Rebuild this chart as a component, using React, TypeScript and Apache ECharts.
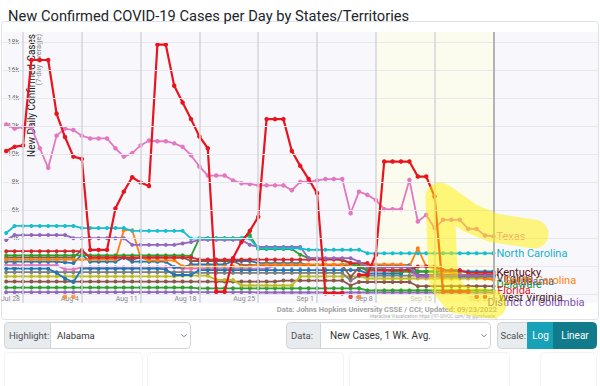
import React, { useEffect, useRef } from "react";
import * as echarts from "echarts";

// ---- data (cases per day, thousands, 7-day average) ----
const days = [-2, -1, 0, 1, 2, 3, 4, 5, 6, 7, 8, 9, 10, 11, 12, 13, 14, 15, 16, 17, 18, 19, 20, 21, 22, 23, 24, 25, 26, 27, 28, 29, 30, 31, 32, 33, 34, 35, 36, 37, 38, 39, 40, 41, 42, 43, 44, 45, 46, 47, 48, 49, 50, 51, 52, 53, 54, 55, 56];
const tickDays = [0, 7, 14, 21, 28, 35, 42, 49, 56];
const tickLabels = ["Jul 28", "Aug 4", "Aug 11", "Aug 18", "Aug 25", "Sep 1", "Sep 8", "Sep 15", "Sep 22"];
const yTickValues = [0, 2, 4, 6, 8, 10, 12, 14, 16, 18];
const yTickLabels = ["0", "2k", "4k", "6k", "8k", "10k", "12k", "14k", "16k", "18k"];

const texas = [12.1, 11.8, 11.9, 11.9, 10.4, 9.0, 11.3, 11.8, 11.7, 11.3, 11.1, 11.1, 11.1,
  10.4, 9.8, 10.05, 10.6, 10.95, 10.9, 10.9, 10.75, 10.5, 9.9, 9.1,
  8.45, 8.45, 8.45, 8.1, 7.9, 7.85, 7.75, 7.75, 7.75, 7.75, 7.4,
  8.0, 8.0, 8.1, 8.2, 8.2, 8.2, 5.76, 7.3, 7.07, 6.7, 6.05,
  6.05, 6.05, 8.14, 5.17, 5.64, 4.69, 5.29, 5.29, 5.29, 4.64, 4.64, 4.17, 4.1];
const florida = [10.2, 10.5, 10.6, 16.7, 16.7, 16.7, 12.86, 11.2, 9.8, 9.64,
  3.14, 3.14, 3.14, 6.1, 7.3, 8.33, 7.95, 7.7, 17.8, 17.8,
  14.86, 13.67, 12.48, 11.24, 10.4, 0.16, 0.16, 2.55, 3.7, 4.5,
  5.5, 12.48, 12.48, 12.48, 10.2, 9.14, 8.2, 7.2, 0.05, 0.05,
  0.05, null, 1.36, 1.36, 2.8, 9.45, 9.45, 9.45, 9.45, 8.38,
  8.38, 6.95, 0.16, 0.16, 0.16, 0.16];
const floridaDotDays = [39, 54, 55];
const floridaDotValues = [-0.2, -0.2, -0.2];
const arkansasDotDays = [5, 6, 40];
const arkansasDotValues = [-0.2, -0.2, -0.2];
const northCarolina = [4.35, 4.85, 4.85, 4.85, 4.85, 4.85, 4.85, 4.85, 4.85,
  4.7, 4.7, 4.7, 4.7, 4.7, 4.7,
  4.5, 4.5, 4.5, 4.5, 4.5, 4.5, 4.5,
  3.95, 3.95, 3.95, 3.95, 3.95, 3.95, 3.95, 3.95,
  3.25, 3.25, 3.25, 3.25, 3.25, 3.25,
  3.15, 3.15, 3.15, 3.15, 3.15, 3.15, 3.15,
  2.9, 2.9, 2.9, 2.9, 2.9, 2.9, 2.9, 2.9, 2.9, 2.9, 2.9, 2.9, 2.9, 2.9, 2.9, 2.9];
const georgia = [3.85, 4.2, 4.2, 4.2, 4.2, 4.2, 4.2, 4.2,
  3.98, 3.98, 3.98, 3.98, 3.98, 3.98, 3.98,
  3.5, 3.5, 3.5, 3.5, 3.5, 3.5,
  3.6, 3.7,
  3.86, 3.86, 3.86, 3.86, 3.86, 3.86,
  3.5,
  3.35, 3.35, 3.35, 3.35, 3.35, 3.35,
  2.55, 2.55, 2.55, 2.55, 2.55, 2.55,
  2.3,
  1.9, 1.9, 1.9, 1.9, 1.9, 1.9,
  1.3, 1.3, 1.3, 1.3, 1.3, 1.3, 1.3, 1.3, 1.3, 1.3];
const kentucky = [3.05, 3.05, 3.05, 3.05, 3.05, 3.05, 3.05, 3.05, 3.05, 3.05,
  2.6, 2.6, 2.6, 2.6, 2.6, 2.6, 2.6, 2.6, 2.6, 2.6, 2.6, 2.6, 2.6,
  2.45, 2.45, 2.45, 2.45, 2.45, 2.45, 2.45, 2.45, 2.45, 2.45, 2.45, 2.45, 2.45, 2.45, 2.45, 2.45, 2.45, 2.45,
  2.2, 2.2, 2.2,
  1.7, 1.7, 1.7, 1.7, 1.7,
  1.95, 1.95, 1.95,
  1.7, 1.7, 1.7,
  1.5, 1.5, 1.5, 1.5];
const tennessee = [2.75, 2.75, 2.75, 2.75, 2.75, 2.75, 2.75, 2.75, 2.75, 2.75, 2.75,
  2.75, 2.75, 2.75, 2.75, 2.75, 2.75, 2.75, 2.75, 2.75, 2.75, 2.75,
  2.7,
  3.98, 3.98, 3.98, 3.98, 3.98, 3.98,
  4.2,
  3.2, 3.2, 3.2, 3.2, 3.2,
  2.8, 2.55, 2.5, 2.5, 2.5, 2.4, 2.2, 1.95,
  1.76, 1.76, 1.76,
  1.6, 1.6, 1.6, 1.6, 1.6, 1.6,
  1.25, 1.25, 1.25, 1.25, 1.25, 1.25, 1.25];
const southCarolina = [2.45, 2.45, 2.45, 2.45, 2.45, 2.45, 2.45, 2.45, 2.45, 2.45, 2.45, 2.45, 2.45, 2.45,
  4.55, 4.55, 2.6,
  2.4, 2.4, 2.4, 2.4,
  1.95, 1.95, 1.95, 1.95, 1.95, 1.95, 1.95, 1.95, 1.95,
  2.1, 2.1, 2.1, 2.1, 2.1, 2.1, 2.1, 2.1, 2.1, 2.1, 2.1, 2.1, 2.1, 2.1, 2.1, 2.1, 2.1, 2.1,
  1.95, 3.26, 1.95, 1.85,
  1.55, 1.5, 1.4, 1.3, 1.2, 1.1, 1.0];
const virginia = [2.6, 2.6, 2.6, 2.6, 2.6, 2.6, 2.6, 2.6, 2.6,
  3.14,
  2.6, 2.6, 2.6, 2.6, 2.6,
  2.45,
  2.6, 2.6, 2.6, 2.6, 2.6, 2.6,
  2.35, 2.35, 2.35, 2.35, 2.35, 2.35,
  2.05, 2.05, 2.05, 2.05, 2.05, 2.05, 2.05, 2.05, 2.05, 2.05, 2.05, 2.05, 2.05,
  1.2, 1.9,
  1.7, 1.7, 1.7, 1.7, 1.7, 1.7,
  1.35, 1.35, 1.35, 1.35, 1.35, 1.35, 1.35, 1.35, 1.35, 1.35];
const alabama = [2.3, 2.3, 2.3, 2.3, 2.3, 2.3, 2.3,
  2.25, 2.2, 2.8,
  2.3, 2.3, 2.3, 2.3,
  2.6,
  2.3, 2.3, 2.3, 2.3, 2.3,
  1.9, 1.9,
  2.1, 2.1, 2.1, 2.1, 2.1,
  2.35, 2.35, 2.35,
  2.2, 2.2, 2.2, 2.2, 2.2, 2.2,
  2.05, 2.05, 2.05, 2.05, 2.05, 2.05, 2.05, 2.05, 2.05, 2.05, 2.05, 2.05, 2.05,
  1.6, 1.6, 1.6, 1.6, 1.6, 1.6, 1.6, 1.6, 1.6, 1.6];
const maryland = [1.8, 1.8, 1.8, 1.8, 1.8, 1.8,
  1.5, 1.1, 0.85,
  1.8, 1.8, 1.8, 1.8, 1.8, 1.8, 1.8, 1.8, 1.8, 1.8,
  1.75,
  1.35, 1.35, 1.35,
  1.7, 1.7, 1.7, 1.7, 1.7, 1.7, 1.7, 1.7, 1.7, 1.7, 1.7, 1.7, 1.7, 1.7, 1.7, 1.7, 1.7, 1.7, 1.7, 1.7,
  1.45, 1.45, 1.45, 1.45, 1.45,
  1.9,
  1.3, 1.3, 1.3, 1.3, 1.3, 1.3, 1.3, 1.3, 1.3, 1.3];
const louisiana = [2.05, 2.05, 2.05, 2.05, 2.05, 2.05, 2.05,
  1.75, 1.75,
  1.9, 1.9, 1.9, 1.9, 1.9, 1.9, 1.9, 1.9, 1.9, 1.9, 1.9, 1.9,
  1.8, 1.8, 1.8, 1.8, 1.8, 1.8, 1.8, 1.8, 1.8, 1.8, 1.8,
  2.0, 2.0, 2.0, 2.0, 2.0, 2.0, 2.0, 2.0,
  2.1, 2.1, 2.1,
  1.6, 1.6, 1.6, 1.6, 1.6, 1.6,
  1.2, 1.2, 1.2, 1.2, 1.2, 1.2, 1.2, 1.2, 1.2, 1.2];
const oklahoma = [1.55, 1.55, 1.55, 1.55, 1.55, 1.55, 1.55, 1.55, 1.55, 1.55, 1.55, 1.55,
  1.55, 1.55, 1.55, 1.55, 1.55, 1.55, 1.55, 1.55, 1.55, 1.55, 1.55,
  1.5, 1.5, 1.5, 1.5, 1.5, 1.5, 1.5, 1.5, 1.5, 1.5, 1.5, 1.5, 1.5, 1.5, 1.5, 1.5, 1.5, 1.5,
  0.95,
  1.3, 1.3, 1.3, 1.3, 1.3, 1.3, 1.3, 1.3, 1.3, 1.3, 1.3, 1.3, 1.3, 1.3, 1.3, 1.3, 1.3];
const mississippi = [1.25, 1.25, 1.25, 1.25, 1.25, 1.25, 1.25, 1.25, 1.25, 1.25, 1.25,
  1.25, 1.25, 1.25, 1.25, 1.25, 1.25, 1.25, 1.25, 1.25, 1.25,
  1.3, 1.3, 1.3, 1.3,
  1.0, 1.0, 1.0,
  0.6, 0.6, 0.6, 0.6, 0.6, 0.6, 0.6,
  1.25, 1.25, 1.25, 1.25, 1.25, 1.25, 1.25, 1.25,
  1.1, 1.1, 1.1, 1.1, 1.1, 1.1, 1.1, 1.1, 1.1, 1.1, 1.1, 1.1, 1.1, 1.1, 1.1, 1.1];
const westVirginia = [0.88, 0.88, 0.88, 0.88, 0.88, 0.88, 0.88, 0.88, 0.88, 0.88, 0.88,
  0.88, 0.88, 0.88, 0.88, 0.88, 0.88, 0.88, 0.88, 0.88, 0.88, 0.88,
  0.88, 0.88, 0.88, 0.88, 0.88, 0.88, 0.88, 0.88, 0.88, 0.88, 0.88,
  0.95, 0.95, 0.95, 0.95, 0.95, 0.95, 0.95, 0.95,
  0.6,
  0.85, 0.85, 0.85, 0.85, 0.85, 0.85, 0.85,
  0.55, 0.55, 0.55, 0.55, 0.55, 0.55, 0.55, 0.55, 0.55, 0.55];
const delaware = [0.45, 0.45, 0.45, 0.45, 0.45, 0.45, 0.45, 0.45, 0.45, 0.45, 0.45, 0.45,
  0.45, 0.45, 0.45, 0.45, 0.45, 0.45, 0.45, 0.45, 0.45, 0.45, 0.45,
  0.4, 0.4, 0.4, 0.4, 0.4, 0.4, 0.4, 0.4, 0.4, 0.4, 0.4, 0.4, 0.4, 0.4, 0.4, 0.4, 0.4, 0.4, 0.4, 0.4,
  0.25, 0.25, 0.25, 0.25, 0.25, 0.25, 0.25, 0.25, 0.25, 0.25, 0.25, 0.25, 0.25, 0.25, 0.25, 0.25];
const dc = [0.12, 0.12, 0.12, 0.12, 0.12, 0.12, 0.12, 0.12, 0.12, 0.12, 0.12, 0.12, 0.12, 0.12, 0.12,
  0.12, 0.12, 0.12, 0.12, 0.12, 0.12, 0.12, 0.12, 0.12, 0.12, 0.12, 0.12, 0.12, 0.12, 0.12,
  0.1, 0.1, 0.1, 0.1, 0.1, 0.1, 0.1, 0.1, 0.1, 0.1, 0.1, 0.1, 0.1, 0.1, 0.1,
  0.1, 0.1, 0.1, 0.1, 0.1, 0.1, 0.1, 0.1, 0.1, 0.1, 0.1, 0.1, 0.1, 0.1];

const stateNames = ["District of Columbia", "Delaware", "West Virginia", "Mississippi", "Oklahoma", "Louisiana",
  "Maryland", "Alabama", "Virginia", "South Carolina", "Tennessee", "Kentucky", "Georgia",
  "North Carolina", "Texas", "Florida"];
const stateValues = [dc, delaware, westVirginia, mississippi, oklahoma, louisiana,
  maryland, alabama, virginia, southCarolina, tennessee, kentucky, georgia,
  northCarolina, texas, florida];

// ---- styles (kept apart from the data) ----
const styles: Record<string, any> = {
  "District of Columbia": { color: "#9467bd", label: "#7e4fb5", offset: [-9, 10] },
  "Delaware": { color: "#2ca02c", label: "#2a8f2a", offset: [0, -6] },
  "West Virginia": { color: "#8c564b", label: "#4a1e1e", offset: [2, 11] },
  "Mississippi": { color: "#bcbd22", label: null },
  "Oklahoma": { color: "#7f7f7f", label: null },
  "Louisiana": { color: "#e377c2", label: null },
  "Maryland": { color: "#1f77b4", label: null },
  "Alabama": { color: "#1f77b4", label: "#1f6fb0", offset: [14, 10] },
  "Virginia": { color: "#8c564b", label: "#5a2a22", offset: [0, 4] },
  "South Carolina": { color: "#ff7f0e", label: "#ff7f0e", offset: [8, 1] },
  "Tennessee": { color: "#2ca02c", label: null },
  "Kentucky": { color: "#d62728", label: "#5c1010", offset: [0, 0] },
  "Georgia": { color: "#9467bd", label: null },
  "North Carolina": { color: "#17becf", label: "#17b0c8", offset: [0, 0] },
  "Texas": { color: "#e377c2", label: "#e377c2", offset: [0, 0] },
  "Florida": { color: "#e8141e", label: "#e8141e", offset: [26, -1] },
};

export default function App() {
  const ref = useRef<HTMLDivElement>(null);
  useEffect(() => {
    if (!ref.current) return;
    const chart = echarts.init(ref.current, null, { renderer: "svg" });
    const font = "Roboto";

    const lineSeries = stateNames.map((name, k) => {
      const st = styles[name];
      const vals = stateValues[k];
      const isBig = name === "Florida" || name === "Texas";
      return {
        name,
        type: "line",
        data: vals.map((v, i) => [days[i], v]),
        symbol: "circle",
        symbolSize: isBig ? 4.5 : 4,
        showSymbol: true,
        connectNulls: false,
        lineStyle: { width: name === "Florida" ? 2.2 : 1.8, color: st.color },
        itemStyle: { color: st.color },
        emphasis: { disabled: true },
        z: 2 + k * 0.01,
        endLabel: st.label
          ? {
              show: true,
              formatter: "{a}",
              color: st.label,
              fontSize: 11,
              fontFamily: font,
              distance: 3,
              offset: st.offset,
            }
          : { show: false },
      };
    });

    const dotSeries = [
      { name: "Florida dots", days: floridaDotDays, vals: floridaDotValues, color: "#e8141e" },
      { name: "Arkansas dots", days: arkansasDotDays, vals: arkansasDotValues, color: "#ff7f0e" },
    ].map((s) => ({
      name: s.name,
      type: "scatter",
      data: s.vals.map((v, i) => [s.days[i], v]),
      symbol: "circle",
      symbolSize: 4.5,
      itemStyle: { color: s.color },
      emphasis: { disabled: true },
      z: 3,
    }));

    const helperArea = {
      name: "area",
      type: "line",
      data: [],
      z: 1,
      markArea: {
        silent: true,
        itemStyle: { color: "rgba(255,255,225,0.55)" },
        data: [[{ xAxis: tickDays[6] }, { xAxis: tickDays[8] }]],
      },
    };
    const helperLines = {
      name: "grid",
      type: "line",
      data: [],
      z: 1.5,
      markLine: {
        silent: true,
        symbol: ["none", "none"],
        label: { show: false },
        animation: false,
        data: [
          ...yTickValues.map((v) => ({ yAxis: v, lineStyle: { color: "#e7e7ee", width: 1, type: "solid" } })),
          ...tickDays.map((d, i) => ({
            xAxis: d,
            lineStyle: i === tickDays.length - 1
              ? { color: "#b4b4b8", width: 2, type: "solid" }
              : { color: "#d6d6da", width: 1.5, type: "solid" },
          })),
        ],
      },
    };

    const ctrlText = (x: number, y: number, text: string, extra: any = {}) => ({
      type: "text",
      x,
      y,
      silent: true,
      z: 5,
      style: { text, fontSize: 9.5, fontFamily: font, fill: "#495057", verticalAlign: "middle", align: "left", ...extra },
    });
    const cy = 335.5;
    const chevron = (x: number) => ({
      type: "polyline",
      silent: true,
      shape: { points: [[x - 2.5, cy - 1.2], [x, cy + 1.3], [x + 2.5, cy - 1.2]] },
      style: { stroke: "#777", lineWidth: 1, fill: "none" },
    });
    const box = (x: number, w: number, fill: string, r: number[], stroke = "#ced4da") => ({
      type: "rect",
      silent: true,
      shape: { x: x + 0.5, y: 322.5, width: w, height: 26, r },
      style: { fill, stroke, lineWidth: 1 },
    });

    const graphics: any[] = [
      {
        type: "rect",
        silent: true,
        shape: { x: 1.5, y: 21.5, width: 597, height: 298, r: 3 },
        style: { fill: "none", stroke: "#dee2e6", lineWidth: 1 },
      },
      {
        type: "text",
        x: 31,
        y: 34,
        rotation: Math.PI / 2,
        silent: true,
        style: { text: "New Daily Confirmed Cases", fontSize: 10, fontFamily: font, fill: "#222", align: "right", verticalAlign: "middle" },
      },
      {
        type: "text",
        x: 38.5,
        y: 34,
        rotation: Math.PI / 2,
        silent: true,
        style: { text: "(7-day average)", fontSize: 7.5, fontFamily: font, fill: "#888", align: "right", verticalAlign: "middle" },
      },
      {
        type: "text",
        x: 497,
        y: 309,
        silent: true,
        style: { text: "Data: Johns Hopkins University CSSE / CCI; Updated: 09/23/2022", fontSize: 7.5, fontWeight: "bold", fontFamily: font, fill: "#a3a3a3", align: "right", verticalAlign: "middle" },
      },
      {
        type: "text",
        x: 497,
        y: 316,
        silent: true,
        style: { text: "Interactive Visualization: https://91-DIVOC.com/ by @profwade_", fontSize: 4.5, fontFamily: font, fill: "#aaa", align: "right", verticalAlign: "middle" },
      },
      {
        type: "polyline",
        silent: true,
        z: 100,
        shape: { points: [[534, 234], [494, 228], [470, 218], [440, 197], [442, 250], [444, 283], [457, 299], [492, 304]] },
        style: { stroke: "#fff000", lineWidth: 29, opacity: 0.5, lineCap: "round", lineJoin: "round", fill: "none" },
      },
      // controls
      box(4, 46, "#e9ecef", [4, 0, 0, 4]),
      box(50, 140, "#ffffff", [0, 4, 4, 0]),
      ctrlText(9, cy, "Highlight:"),
      ctrlText(57, cy, "Alabama", { fill: "#333" }),
      chevron(184),
      box(286, 34, "#e9ecef", [4, 0, 0, 4]),
      box(320, 170, "#ffffff", [0, 4, 4, 0]),
      ctrlText(291, cy, "Data:"),
      ctrlText(330, cy, "New Cases, 1 Wk. Avg.", { fill: "#333", fontSize: 10 }),
      chevron(484),
      box(497, 30, "#e9ecef", [4, 0, 0, 4]),
      box(527, 26, "#17a2b8", [0, 0, 0, 0], "#17a2b8"),
      box(553, 43, "#117a8b", [0, 4, 4, 0], "#117a8b"),
      ctrlText(500.5, cy, "Scale:"),
      ctrlText(540.5, cy, "Log", { fill: "#fff", align: "center", fontSize: 10 }),
      ctrlText(575, cy, "Linear", { fill: "#fff", align: "center", fontSize: 10 }),
      // faint next row
      { type: "rect", silent: true, shape: { x: 4.5, y: 352.5, width: 138, height: 40, r: 4 }, style: { fill: "none", stroke: "#f2f3f5" } },
      { type: "rect", silent: true, shape: { x: 147.5, y: 352.5, width: 196, height: 40, r: 4 }, style: { fill: "none", stroke: "#f2f3f5" } },
      { type: "rect", silent: true, shape: { x: 349.5, y: 352.5, width: 160, height: 40, r: 4 }, style: { fill: "none", stroke: "#f2f3f5" } },
      { type: "rect", silent: true, shape: { x: 540.5, y: 352.5, width: 56, height: 40, r: 4 }, style: { fill: "none", stroke: "#f2f3f5" } },
    ];

    chart.setOption({
      animation: false,
      backgroundColor: "#ffffff",
      title: {
        text: "New Confirmed COVID-19 Cases per Day by States/Territories",
        left: 3,
        top: 3,
        textStyle: { fontSize: 14.7, fontWeight: "normal", color: "#212529", fontFamily: font },
      },
      grid: {
        left: 3,
        top: 32,
        width: 595,
        height: 271,
        containLabel: false,
        outerBoundsMode: "none",
        show: true,
        backgroundColor: "#f8f8fc",
        borderWidth: 0,
      },
      xAxis: {
        type: "value",
        min: -2.381,
        max: 68.45,
        axisLine: { show: false },
        splitLine: { show: false },
        axisTick: { show: false, customValues: tickDays },
        axisLabel: {
          customValues: tickDays,
          formatter: (v: number) => tickLabels[tickDays.indexOf(v)] ?? "",
          inside: true,
          align: "right",
          padding: [0, 3, 0, 0],
          margin: 1,
          fontSize: 7,
          color: "#8a8a8a",
          fontFamily: font,
        },
      },
      yAxis: {
        type: "value",
        min: -0.65,
        max: 18.7,
        offset: -20,
        axisLine: { show: false },
        splitLine: { show: false },
        axisTick: { show: true, customValues: yTickValues, length: 3, lineStyle: { color: "#999" } },
        axisLabel: {
          customValues: yTickValues,
          formatter: (v: number) => yTickLabels[yTickValues.indexOf(v)] ?? "",
          margin: 4,
          fontSize: 7,
          color: "#666",
          fontFamily: font,
        },
      },
      graphic: graphics,
      series: [helperArea, helperLines, ...lineSeries, ...dotSeries],
    } as any);
    return () => chart.dispose();
  }, []);
  return (
    <div
      ref={ref}
      style={{ position: "fixed", left: 0, top: 0, width: 600, height: 386, background: "#fff" }}
    />
  );
}
